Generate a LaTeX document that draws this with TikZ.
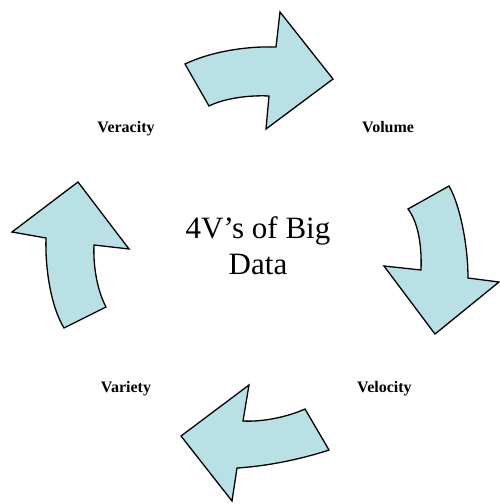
\documentclass[tikz,border=0pt]{standalone}
\usepackage{fontspec}
\setmainfont{Liberation Serif}
\definecolor{arrowfill}{RGB}{185,224,229}
\tikzset{
  cyclearrow/.style={draw=black, fill=arrowfill, line width=1.3pt, line join=miter},
  vlabel/.style={font=\fontsize{16}{19}\selectfont\bfseries, inner sep=0pt, anchor=base},
  title/.style={font=\fontsize{31}{36}\selectfont, align=center, inner sep=0pt}
}
\begin{document}
\begin{tikzpicture}[x=1pt,y=-1pt]
\useasboundingbox (0,0) rectangle (499,504);
% top arrow, pointing right
\draw[cyclearrow] (185,64) .. controls (210,52) and (245,46) .. (276,47)
  -- (280,12) -- (333,79) -- (266,129) -- (269,96)
  .. controls (250,95) and (225,98) .. (209,106) -- cycle;
% right arrow, pointing down
\draw[cyclearrow] (449,186) .. controls (460,205) and (468,245) .. (468,278)
  -- (499,282) -- (435,334) -- (384,266) -- (421,270)
  .. controls (422,245) and (418,222) .. (408,209) -- cycle;
% bottom arrow, pointing left
\draw[cyclearrow] (329,450) .. controls (305,458) and (270,466) .. (237,468)
  -- (232,501) -- (181,436) -- (249,385) -- (243,421)
  .. controls (260,422) and (285,418) .. (305,409) -- cycle;
% left arrow, pointing up
\draw[cyclearrow] (64,328) .. controls (50,305) and (45,265) .. (46,238)
  -- (12,232) -- (78,182) -- (129,249) -- (94,245)
  .. controls (93,265) and (97,290) .. (106,307) -- cycle;
% labels
\node[vlabel] (veracity) at (126,132) {Veracity};
\node[vlabel, anchor=base west] (volume) at (362,132) {Volume};
\node[vlabel, anchor=base west] (velocity) at (357,392) {Velocity};
\node[vlabel] (variety) at (126,392) {Variety};
\node[title] (centre) at (258,246) {4V’s of Big\\Data};
\end{tikzpicture}
\end{document}
